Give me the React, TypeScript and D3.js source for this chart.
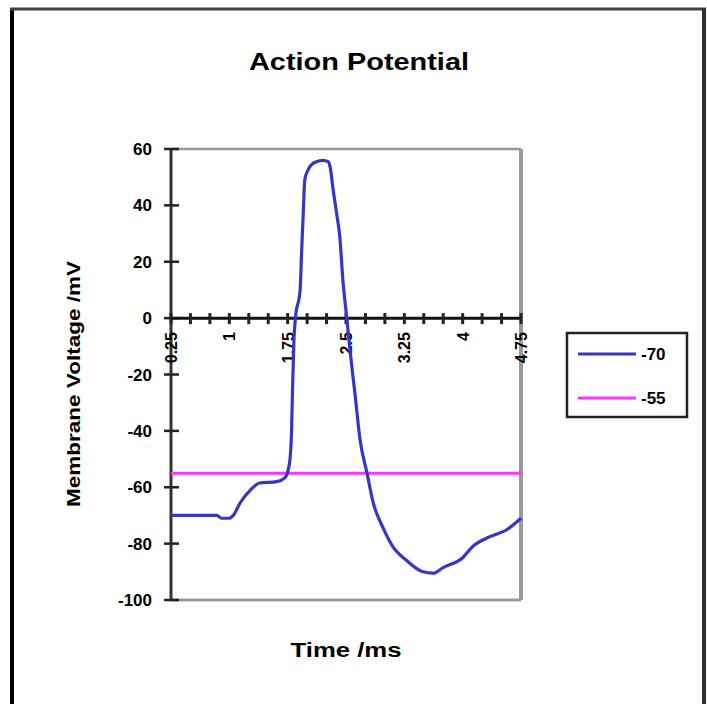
import React from "react";
import * as d3 from "d3";

const timeMs: number[] = [
  0.25, 0.5, 0.84, 0.9, 1.0, 1.05, 1.14, 1.27, 1.39, 1.61, 1.72, 1.75, 1.78, 1.8, 1.81, 1.83, 1.85,
  1.91, 1.93, 1.95, 1.97, 2.01, 2.06, 2.12, 2.2, 2.27, 2.3, 2.33, 2.38, 2.42, 2.46, 2.51, 2.55,
  2.62, 2.68, 2.77, 2.85, 2.97, 3.1, 3.28, 3.49, 3.62, 3.75, 4.0, 4.13, 4.31, 4.57, 4.75,
];
const voltage: number[] = [
  -70, -70, -70, -71, -71, -70, -65.5, -61, -58.5, -58, -56.5, -54.5, -50, -40, -28, -8, 0,
  10, 24, 37, 49, 52.5, 54.5, 55.5, 56, 55.5, 53, 46.5, 37, 29, 13.5, 0, -11,
  -28, -43, -55, -65.5, -74, -81, -86, -90, -90.5, -88.5, -85, -81, -78, -75, -71,
];
const threshold = -55;
const seriesNames: string[] = ["-70", "-55"];
const yTicks: number[] = [60, 40, 20, 0, -20, -40, -60, -80, -100];
const xLabels: string[] = ["0.25", "1", "1.75", "2.5", "3.25", "4", "4.75"];
const xLabelValues: number[] = [0.25, 1, 1.75, 2.5, 3.25, 4, 4.75];
const xTickValues: number[] = d3.range(0, 19).map((i) => 0.25 + i * 0.25);

const BLUE = "#3535c8";
const PINK = "#ff33ff";
const FONT = "'Liberation Sans', Arial, sans-serif";

export default function App() {
  const left = 171, right = 521, top = 149, bottom = 600;
  const x = d3.scaleLinear().domain([0.25, 4.75]).range([left, right]);
  const y = d3.scaleLinear().domain([-100, 60]).range([bottom, top]);
  const pts: [number, number][] = timeMs.map((t, i) => [t, voltage[i]]);
  const line = d3
    .line<[number, number]>()
    .x((d) => x(d[0]))
    .y((d) => y(d[1]))
    .curve(d3.curveMonotoneX);
  const y0 = y(0);

  return (
    <div style={{ position: "absolute", left: 0, top: 0 }}>
      <svg width={707} height={704} style={{ display: "block", background: "#fff" }} fontFamily={FONT}>
        {/* outer frame */}
        <line x1={12} y1={8} x2={12} y2={704} stroke="#000" strokeWidth={4} />
        <line x1={10} y1={9} x2={706} y2={9} stroke="#444" strokeWidth={3} />
        <line x1={704} y1={8} x2={704} y2={704} stroke="#333" strokeWidth={4} />

        {/* title */}
        <text x={359} y={70} textAnchor="middle" fontSize={24} fontWeight="bold" textLength={220} lengthAdjust="spacingAndGlyphs">
          Action Potential
        </text>

        {/* plot area border (gray) */}
        <line x1={left} y1={top} x2={right} y2={top} stroke="#999" strokeWidth={2.5} />
        <line x1={right} y1={top} x2={right} y2={bottom} stroke="#999" strokeWidth={4} />
        <line x1={left} y1={bottom} x2={right} y2={bottom} stroke="#999" strokeWidth={3} />

        {/* y axis */}
        <line x1={left} y1={top} x2={left} y2={bottom} stroke="#333" strokeWidth={3} />
        {yTicks.map((v) => (
          <g key={"y" + v}>
            <line x1={left - 7} x2={left + 8} y1={y(v)} y2={y(v)} stroke="#222" strokeWidth={2.5} />
            <text x={152} y={y(v) + 6} textAnchor="end" fontSize={17} fontWeight="bold">
              {v}
            </text>
          </g>
        ))}

        {/* x axis at 0 */}
        <line x1={left} y1={y0} x2={right} y2={y0} stroke="#111" strokeWidth={3} />
        {xTickValues.map((t) => (
          <line key={"xt" + t} x1={x(t)} x2={x(t)} y1={y0 - 5} y2={y0 + 6} stroke="#222" strokeWidth={3} />
        ))}
        {xLabels.map((lab, i) => (
          <text
            key={"xl" + lab}
            transform={`translate(${x(xLabelValues[i]) + 6},${y0 + 14}) rotate(-90)`}
            textAnchor="end"
            fontSize={16}
            fontWeight="bold"
          >
            {lab}
          </text>
        ))}

        {/* threshold line */}
        <line x1={left} x2={right} y1={y(threshold)} y2={y(threshold)} stroke={PINK} strokeWidth={3} />

        {/* action potential curve */}
        <path d={line(pts) || ""} fill="none" stroke={BLUE} strokeWidth={3.2} strokeLinejoin="round" />

        {/* axis titles */}
        <text transform="translate(80,384) rotate(-90)" textAnchor="middle" fontSize={19} fontWeight="bold" textLength={246} lengthAdjust="spacingAndGlyphs">
          Membrane Voltage /mV
        </text>
        <text x={346} y={657} textAnchor="middle" fontSize={20} fontWeight="bold" textLength={111} lengthAdjust="spacingAndGlyphs">
          Time /ms
        </text>

        {/* legend */}
        <rect x={567} y={333} width={120} height={84} fill="#fff" stroke="#222" strokeWidth={2.5} />
        <line x1={578} x2={636} y1={354} y2={354} stroke={BLUE} strokeWidth={3} />
        <text x={641} y={360} fontSize={17} fontWeight="bold">{seriesNames[0]}</text>
        <line x1={578} x2={636} y1={398} y2={398} stroke={PINK} strokeWidth={3} />
        <text x={641} y={404} fontSize={17} fontWeight="bold">{seriesNames[1]}</text>
      </svg>
    </div>
  );
}
